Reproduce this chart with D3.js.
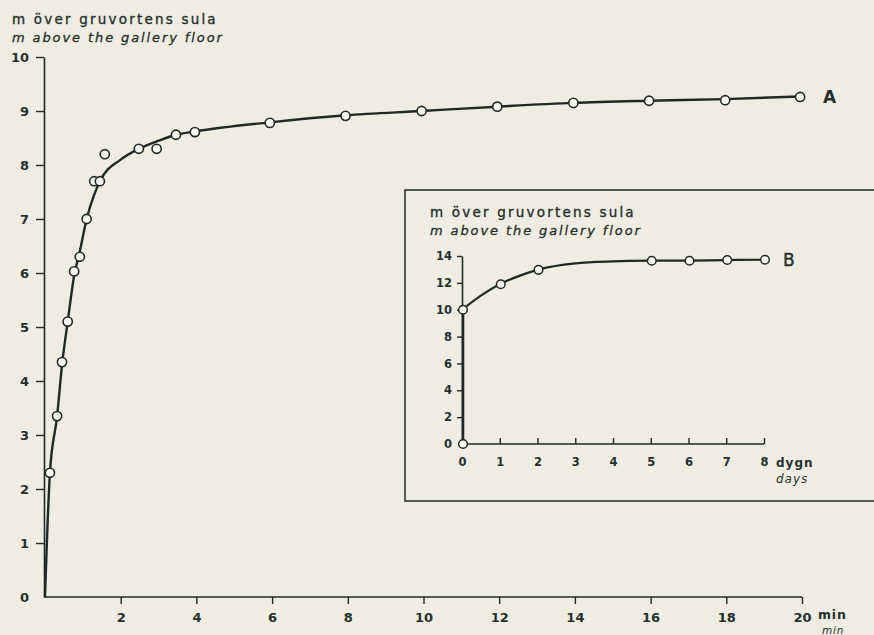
<!DOCTYPE html>
<html><head><meta charset="utf-8">
<script src="https://cdn.jsdelivr.net/npm/d3@7"></script>
<style>
html,body{margin:0;padding:0;background:#efede3;}
svg{display:block;}
text{font-family:"DejaVu Sans",sans-serif;fill:#25302c;}
</style></head>
<body>
<script>
// ---- Data ----
const titleSv = "m över gruvortens sula";
const titleEn = "m above the gallery floor";
// Series A: minutes vs metres
const obsA_x = [0.13,0.32,0.45,0.6,0.77,0.92,1.1,1.3,1.45,1.58,2.48,2.95,3.46,3.96,5.94,7.94,9.95,11.95,13.96,15.96,17.97,19.95];
const obsA_y = [2.3,3.35,4.35,5.1,6.03,6.3,7.0,7.7,7.7,8.2,8.3,8.3,8.56,8.61,8.78,8.91,9.0,9.08,9.15,9.19,9.2,9.26];
const curveA_x = [0,0.13,0.32,0.45,0.6,0.77,0.92,1.1,1.3,1.45,2.0,2.48,3.0,3.46,3.96,5.94,7.94,9.95,11.95,13.96,15.96,17.97,19.95];
const curveA_y = [0,2.3,3.35,4.3,5.1,5.95,6.4,7.0,7.45,7.7,8.1,8.3,8.45,8.56,8.62,8.79,8.92,9.0,9.08,9.15,9.19,9.22,9.27];
const ticksAx = [2,4,6,8,10,12,14,16,18,20];
const ticksAy = [0,1,2,3,4,5,6,7,8,9,10];
// Series B: days vs metres
const obsB_x = [0,0,1,2,5,6,7,8];
const obsB_y = [0,10,11.9,12.97,13.65,13.65,13.7,13.72];
const curveB_x = [0,0.5,1,1.5,2,3,4,5,6,7,8];
const curveB_y = [10,11.05,11.9,12.5,12.97,13.45,13.6,13.65,13.66,13.7,13.72];
const ticksBx = [0,1,2,3,4,5,6,7,8];
const ticksBy = [0,2,4,6,8,10,12,14];

const W=874,H=635, ink="#1f2a26", dotFill="#f8f7f0";
const svg=d3.select("body").append("svg").attr("width",W).attr("height",H);
svg.append("rect").attr("width",W).attr("height",H).attr("fill","#efede3");

// ---- Main chart A ----
const xA=d3.scaleLinear().domain([0,20]).range([45,802]);
const yA=d3.scaleLinear().domain([0,10]).range([597,57]);

const gA=svg.append("g");
const axA_x=d3.axisBottom(xA).tickValues(ticksAx).tickSize(7).tickSizeOuter(0).tickPadding(9);
const axA_y=d3.axisLeft(yA).tickValues(ticksAy).tickSize(8).tickSizeOuter(0).tickPadding(7);
function styleAxis(g,fs){
  g.select(".domain").attr("stroke",ink).attr("stroke-width",1.6);
  g.selectAll(".tick line").attr("stroke",ink).attr("stroke-width",1.4);
  g.selectAll(".tick text").attr("fill","#25302c").attr("font-size",fs).attr("font-weight","bold").attr("font-family","DejaVu Sans, sans-serif");
}
const gx=gA.append("g").attr("transform",`translate(0,${yA(0)})`).call(axA_x);
styleAxis(gx,13);
gx.select(".domain").attr("d",`M${xA(0)-1},0H${xA(20)}`);
const gy=gA.append("g").attr("transform",`translate(${xA(0)-1},0)`).call(axA_y);
styleAxis(gy,13);
gy.selectAll(".tick").filter(d=>d===0).select("line").remove();

const lineA=d3.line().x(d=>xA(d[0])).y(d=>yA(d[1])).curve(d3.curveMonotoneX);
gA.append("path").datum(curveA_x.map((x,i)=>[x,curveA_y[i]]))
  .attr("d",lineA).attr("fill","none").attr("stroke",ink).attr("stroke-width",2.4);
gA.selectAll("circle.a").data(obsA_x.map((x,i)=>[x,obsA_y[i]])).join("circle")
  .attr("cx",d=>xA(d[0])).attr("cy",d=>yA(d[1])).attr("r",4.6)
  .attr("fill",dotFill).attr("stroke",ink).attr("stroke-width",1.6);
gA.append("text").attr("x",xA(20)+21).attr("y",yA(9.26)+6).text("A")
  .attr("font-size",17).attr("font-weight","bold");

// titles
function titles(x,y,fs){
  svg.append("text").attr("x",x).attr("y",y).text(titleSv).attr("font-size",fs).attr("letter-spacing",2.2)
    .attr("stroke","#25302c").attr("stroke-width",0.35);
  svg.append("text").attr("x",x).attr("y",y+18).text(titleEn).attr("font-size",fs-0.5).attr("font-style","italic").attr("letter-spacing",1.9)
    .attr("stroke","#25302c").attr("stroke-width",0.3);
}
titles(12,24,13.5);
svg.append("text").attr("x",818).attr("y",619).text("min").attr("font-size",12.5).attr("font-weight","bold").attr("letter-spacing",0.8);
svg.append("text").attr("x",822).attr("y",634).text("min").attr("font-size",10.5).attr("font-style","italic").attr("letter-spacing",0.8);

// ---- Inset B ----
svg.append("rect").attr("x",405).attr("y",190).attr("width",490).attr("height",311)
  .attr("fill","none").attr("stroke",ink).attr("stroke-width",1.5);
titles(430,217,13.5);

const xB=d3.scaleLinear().domain([0,8]).range([462,764]);
const yB=d3.scaleLinear().domain([0,14]).range([444,256]);
const gB=svg.append("g");
const bx=gB.append("g").attr("transform",`translate(0,${yB(0)})`)
  .call(d3.axisBottom(xB).tickValues(ticksBx).tickSize(-6).tickSizeOuter(0).tickPadding(14));
styleAxis(bx,11.5);
bx.selectAll(".tick").filter(d=>d===0).select("line").remove();
bx.select(".domain").attr("d",`M${xB(0)},0H${xB(8)}`);
const by=gB.append("g").attr("transform",`translate(${xB(0)},0)`)
  .call(d3.axisLeft(yB).tickValues(ticksBy).tickSize(5).tickSizeOuter(0).tickPadding(5));
styleAxis(by,11.5);
by.selectAll(".tick").filter(d=>d===0).select("line").remove();

const lineB=d3.line().x(d=>xB(d[0])).y(d=>yB(d[1])).curve(d3.curveMonotoneX);
gB.append("path").datum([[obsB_x[0],obsB_y[0]],[obsB_x[1],obsB_y[1]]])
  .attr("d",d3.line().x(d=>xB(d[0])+1).y(d=>yB(d[1]))).attr("fill","none").attr("stroke",ink).attr("stroke-width",2.6);
gB.append("path").datum(curveB_x.map((x,i)=>[x,curveB_y[i]]))
  .attr("d",lineB).attr("fill","none").attr("stroke",ink).attr("stroke-width",2.2);
gB.selectAll("circle.b").data(obsB_x.map((x,i)=>[x,obsB_y[i]])).join("circle")
  .attr("cx",d=>xB(d[0])+1).attr("cy",d=>yB(d[1])).attr("r",4.3)
  .attr("fill",dotFill).attr("stroke",ink).attr("stroke-width",1.5);
gB.append("text").attr("x",xB(8)+19).attr("y",yB(13.72)+6).text("B")
  .attr("font-size",17).attr("stroke","#25302c").attr("stroke-width",0.4);
svg.append("text").attr("x",776).attr("y",467).text("dygn").attr("font-size",12).attr("font-weight","bold").attr("letter-spacing",1);
svg.append("text").attr("x",776).attr("y",483).text("days").attr("font-size",12).attr("font-style","italic").attr("letter-spacing",1);
</script>
</body></html>
